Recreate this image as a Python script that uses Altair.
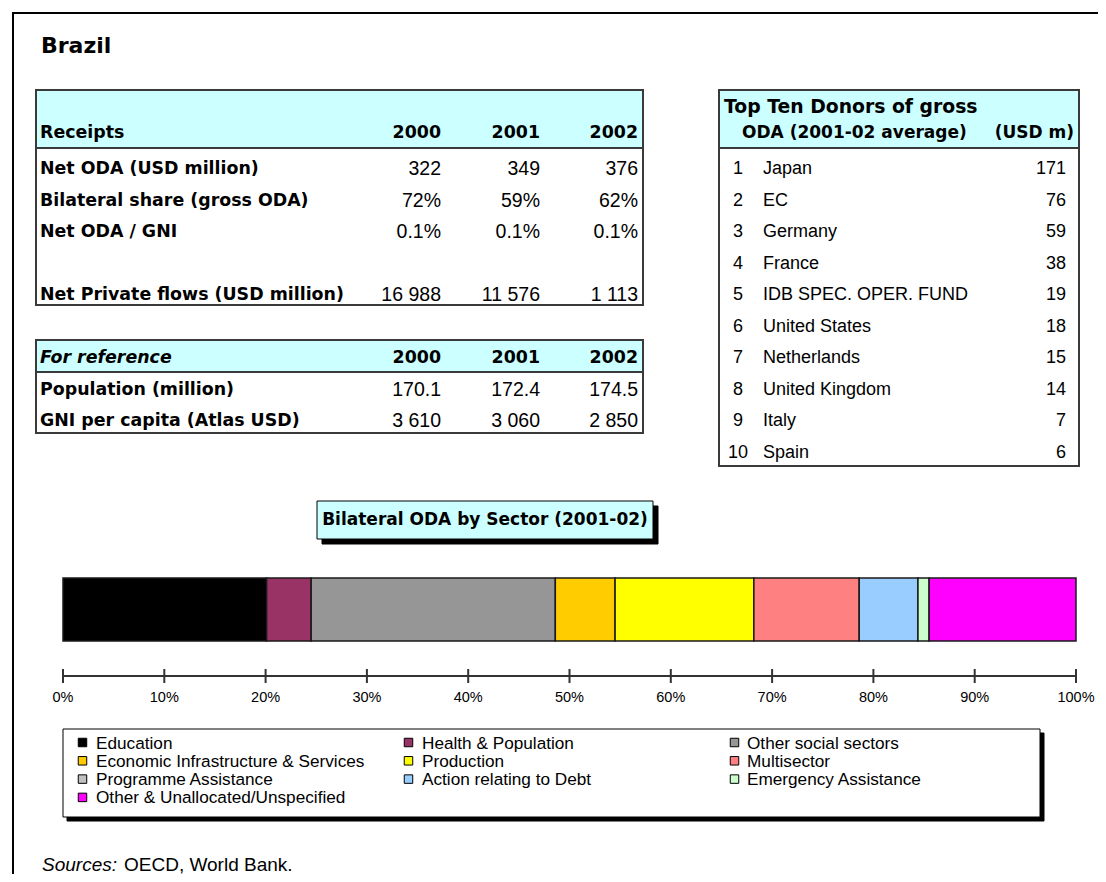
import altair as alt
import pandas as pd

# ---------------- data ----------------
country = "Brazil"
years = ["2000", "2001", "2002"]
receipt_labels = ["Net ODA (USD million)", "Bilateral share (gross ODA)",
                  "Net ODA / GNI", "Net Private flows (USD million)"]
receipt_values = [["322", "349", "376"],
                  ["72%", "59%", "62%"],
                  ["0.1%", "0.1%", "0.1%"],
                  ["16 988", "11 576", "1 113"]]
reference_labels = ["Population (million)", "GNI per capita (Atlas USD)"]
reference_values = [["170.1", "172.4", "174.5"],
                    ["3 610", "3 060", "2 850"]]
donor_names = ["Japan", "EC", "Germany", "France", "IDB SPEC. OPER. FUND",
               "United States", "Netherlands", "United Kingdom", "Italy", "Spain"]
donor_values = [171, 76, 59, 38, 19, 18, 15, 14, 7, 6]
sectors = ["Education", "Health & Population", "Other social sectors",
           "Economic Infrastructure & Services", "Production", "Multisector",
           "Programme Assistance", "Action relating to Debt",
           "Emergency Assistance", "Other & Unallocated/Unspecified"]
sector_shares = [20.1, 4.4, 24.1, 5.9, 13.7, 10.4, 0.0, 5.8, 1.1, 14.5]
sector_colors = ["#000000", "#993366", "#969696", "#FFCC00", "#FFFF00",
                 "#FF8080", "#C0C0C0", "#99CCFF", "#CCFFCC", "#FF00FF"]
axis_ticks = [0, 10, 20, 30, 40, 50, 60, 70, 80, 90, 100]
axis_labels = [f"{t}%" for t in axis_ticks]

# ---------------- layout (page pixels) ----------------
W, H, OFF = 1090, 866, 8
TEXT_DY = 2
CYAN = "#CCFFFF"
BORDER = "#3a3a3a"
BOLD_FONT = "DejaVu Sans"
REG_FONT = "Liberation Sans"

# left tables
LT_X0, LT_X1 = 36, 643
RC_Y0, RC_HDR, RC_Y1 = 90, 148, 305
RF_Y0, RF_HDR, RF_Y1 = 340, 372, 433
LBL_X = 40
COL_RIGHT = [441, 540, 638]
ROW_PITCH = 31.5
RC_HEAD_Y = 131
RC_ROW0 = 167
RC_SLOTS = [0, 1, 2, 4]
RF_HEAD_Y = 356
RF_ROW0 = 387.5
# donors table
DT_X0, DT_X1, DT_Y0, DT_HDR, DT_Y1 = 719, 1079, 90, 148, 466
RANK_X, NAME_X, VAL_X = 738, 763, 1066
# sector chart
TB_X0, TB_X1, TB_Y0, TB_Y1, SHADOW = 317, 653, 501, 539, 5
BAR_X0, BAR_X1, BAR_Y0, BAR_Y1 = 63, 1076, 578, 641
AXIS_Y, TICK_LEN, AXIS_LBL_Y = 676, 7, 697
LG_X0, LG_X1, LG_Y0, LG_Y1, LG_SHADOW = 63, 1040, 729, 817, 4
LG_SW_X = [82.5, 408.5, 734.5]
LG_TX_X = [96, 422, 747]
LG_ROW0, LG_PITCH = 742.5, 18.3


def cx(v):
    return v - OFF


def PXS():
    return alt.Scale(domain=[OFF, OFF + W], range=[0, W], nice=False, zero=False)


def PYS():
    return alt.Scale(domain=[OFF, OFF + H], range=[0, H], nice=False, zero=False)


def PCT():
    return alt.Scale(domain=[0, 100], range=[cx(BAR_X0), cx(BAR_X1)], nice=False, zero=False)


def rect_layer(rows):
    df = pd.DataFrame(rows, columns=["x", "x2", "y", "y2", "fill", "stroke", "sw"])
    return alt.Chart(df).mark_rect().encode(
        x=alt.X("x:Q", scale=PXS(), axis=None), x2="x2:Q",
        y=alt.Y("y:Q", scale=PYS(), axis=None), y2="y2:Q",
        fill=alt.Fill("fill:N", scale=None),
        stroke=alt.Stroke("stroke:N", scale=None),
        strokeWidth=alt.StrokeWidth("sw:Q", scale=None),
    )


def line_layer(rows, color, width):
    df = pd.DataFrame(rows, columns=["x", "x2", "y", "y2"])
    return alt.Chart(df).mark_rule(color=color, strokeWidth=width).encode(
        x=alt.X("x:Q", scale=PXS(), axis=None), x2="x2:Q",
        y=alt.Y("y:Q", scale=PYS(), axis=None), y2="y2:Q",
    )


def text_layer(rows, **kw):
    df = pd.DataFrame(rows, columns=["x", "y", "text"])
    df["y"] = df["y"] + TEXT_DY
    return alt.Chart(df).mark_text(baseline="middle", color="#000000", **kw).encode(
        x=alt.X("x:Q", scale=PXS(), axis=None),
        y=alt.Y("y:Q", scale=PYS(), axis=None),
        text="text:N",
    )


layers = []

# page frame (top and left edge)
layers.append(line_layer([[12, OFF + W, 13, 13], [13, 13, 12, OFF + H]], "#000000", 2))

# table boxes
layers.append(rect_layer([
    [LT_X0, LT_X1, RC_Y0, RC_Y1, "#FFFFFF", BORDER, 2],
    [LT_X0, LT_X1, RC_Y0, RC_HDR, CYAN, BORDER, 2],
    [LT_X0, LT_X1, RF_Y0, RF_Y1, "#FFFFFF", BORDER, 2],
    [LT_X0, LT_X1, RF_Y0, RF_HDR, CYAN, BORDER, 2],
    [DT_X0, DT_X1, DT_Y0, DT_Y1, "#FFFFFF", BORDER, 2],
    [DT_X0, DT_X1, DT_Y0, DT_HDR, CYAN, BORDER, 2],
    # sector title box with shadow
    [TB_X0 + SHADOW, TB_X1 + SHADOW, TB_Y0 + SHADOW, TB_Y1 + SHADOW, "#000000", "#000000", 1],
    [TB_X0, TB_X1, TB_Y0, TB_Y1, CYAN, "#000000", 1],
    # legend box with shadow
    [LG_X0 + LG_SHADOW, LG_X1 + LG_SHADOW, LG_Y0 + LG_SHADOW, LG_Y1 + LG_SHADOW, "#000000", "#000000", 1],
    [LG_X0, LG_X1, LG_Y0, LG_Y1, "#FFFFFF", "#000000", 1],
]))

# title
layers.append(text_layer([[41, 44, country]], font=BOLD_FONT, fontSize=22, fontWeight="bold", align="left"))

# left tables: labels
lbl_rows = [[LBL_X, RC_HEAD_Y, "Receipts"]]
lbl_rows += [[LBL_X, RC_ROW0 + s * ROW_PITCH, t] for s, t in zip(RC_SLOTS, receipt_labels)]
lbl_rows += [[LBL_X, RF_ROW0 + i * ROW_PITCH, t] for i, t in enumerate(reference_labels)]
layers.append(text_layer(lbl_rows, font=BOLD_FONT, fontSize=17.4, fontWeight="bold", align="left"))
layers.append(text_layer([[LBL_X, RF_HEAD_Y, "For reference"]], font=BOLD_FONT, fontSize=17.4,
                         fontWeight="bold", fontStyle="italic", align="left"))
# year headers
yr_rows = [[COL_RIGHT[j], y, yr] for y in (RC_HEAD_Y, RF_HEAD_Y) for j, yr in enumerate(years)]
layers.append(text_layer(yr_rows, font=BOLD_FONT, fontSize=17.4, fontWeight="bold", align="right"))
# numbers
num_rows = []
for s, vals in zip(RC_SLOTS, receipt_values):
    for j, v in enumerate(vals):
        num_rows.append([COL_RIGHT[j], RC_ROW0 + s * ROW_PITCH, v])
for i, vals in enumerate(reference_values):
    for j, v in enumerate(vals):
        num_rows.append([COL_RIGHT[j], RF_ROW0 + i * ROW_PITCH, v])
layers.append(text_layer(num_rows, font=REG_FONT, fontSize=19.5, align="right"))

# donors table
layers.append(text_layer([[724, 105, "Top Ten Donors of gross"]],
                         font=BOLD_FONT, fontSize=18.8, fontWeight="bold", align="left"))
layers.append(text_layer([[742, 131, "ODA (2001-02 average)"]],
                         font=BOLD_FONT, fontSize=17.0, fontWeight="bold", align="left"))
layers.append(text_layer([[1074, 131, "(USD m)"]], font=BOLD_FONT, fontSize=17.0, fontWeight="bold", align="right"))
layers.append(text_layer([[RANK_X, RC_ROW0 + i * ROW_PITCH, str(i + 1)] for i in range(len(donor_names))],
                         font=REG_FONT, fontSize=18, align="center"))
layers.append(text_layer([[NAME_X, RC_ROW0 + i * ROW_PITCH, n] for i, n in enumerate(donor_names)],
                         font=REG_FONT, fontSize=18, align="left"))
layers.append(text_layer([[VAL_X, RC_ROW0 + i * ROW_PITCH, str(v)] for i, v in enumerate(donor_values)],
                         font=REG_FONT, fontSize=18, align="right"))

# sector title
layers.append(text_layer([[(TB_X0 + TB_X1) / 2, (TB_Y0 + TB_Y1) / 2 - 2, "Bilateral ODA by Sector (2001-02)"]],
                         font=BOLD_FONT, fontSize=17, fontWeight="bold", align="center"))

# stacked sector bar
sec_df = pd.DataFrame({"sector": sectors, "share": sector_shares, "order": range(len(sectors))})
sec_df["end"] = sec_df["share"].cumsum()
sec_df["start"] = sec_df["end"] - sec_df["share"]
color_scale = alt.Scale(domain=sectors, range=sector_colors)
layers.append(
    alt.Chart(sec_df[sec_df["share"] > 0]).mark_rect(stroke="#1a1a1a", strokeWidth=1.5).encode(
        x=alt.X("start:Q", scale=PCT(), axis=None), x2="end:Q",
        y=alt.value(cx(BAR_Y0)), y2=alt.value(cx(BAR_Y1)),
        fill=alt.Fill("sector:N", scale=color_scale, legend=None),
    )
)

# percent axis
ax_df = pd.DataFrame({"tick": axis_ticks, "label": axis_labels})
layers.append(
    alt.Chart(pd.DataFrame({"a": [axis_ticks[0]], "b": [axis_ticks[-1]]})).mark_rule(
        color="#333333", strokeWidth=2).encode(
        x=alt.X("a:Q", scale=PCT(), axis=None), x2="b:Q", y=alt.value(cx(AXIS_Y)))
)
layers.append(
    alt.Chart(ax_df).mark_rule(color="#333333", strokeWidth=2).encode(
        x=alt.X("tick:Q", scale=PCT(), axis=None),
        y=alt.value(cx(AXIS_Y - TICK_LEN)), y2=alt.value(cx(AXIS_Y + TICK_LEN)))
)
layers.append(
    alt.Chart(ax_df).mark_text(baseline="middle", align="center", font=REG_FONT, fontSize=14.5,
                               color="#000000").encode(
        x=alt.X("tick:Q", scale=PCT(), axis=None), y=alt.value(cx(AXIS_LBL_Y + 1)), text="label:N")
)

# legend
lg_df = pd.DataFrame({"sector": sectors})
lg_df["sx"] = [LG_SW_X[i % 3] for i in range(len(sectors))]
lg_df["tx"] = [LG_TX_X[i % 3] for i in range(len(sectors))]
lg_df["y"] = [LG_ROW0 + (i // 3) * LG_PITCH for i in range(len(sectors))]
layers.append(
    alt.Chart(lg_df).mark_square(size=72, filled=True, opacity=1, stroke="#000000", strokeWidth=1).encode(
        x=alt.X("sx:Q", scale=PXS(), axis=None), y=alt.Y("y:Q", scale=PYS(), axis=None),
        fill=alt.Fill("sector:N", scale=color_scale, legend=None))
)
layers.append(
    alt.Chart(lg_df.assign(ty=lg_df["y"] + 1)).mark_text(baseline="middle", align="left", font=REG_FONT,
                                                        fontSize=17.2, color="#000000").encode(
        x=alt.X("tx:Q", scale=PXS(), axis=None), y=alt.Y("ty:Q", scale=PYS(), axis=None), text="sector:N")
)

# sources
layers.append(text_layer([[42, 863, "Sources:"]], font=REG_FONT, fontSize=19, fontStyle="italic", align="left"))
layers.append(text_layer([[124, 863, "OECD, World Bank."]], font=REG_FONT, fontSize=19, align="left"))

chart = alt.layer(*layers).resolve_scale(x="independent").properties(
    width=W, height=H, padding=0, autosize="none"
).configure_view(stroke=None)

chart.save("out.html", embed_options={"renderer": "svg", "actions": False})
